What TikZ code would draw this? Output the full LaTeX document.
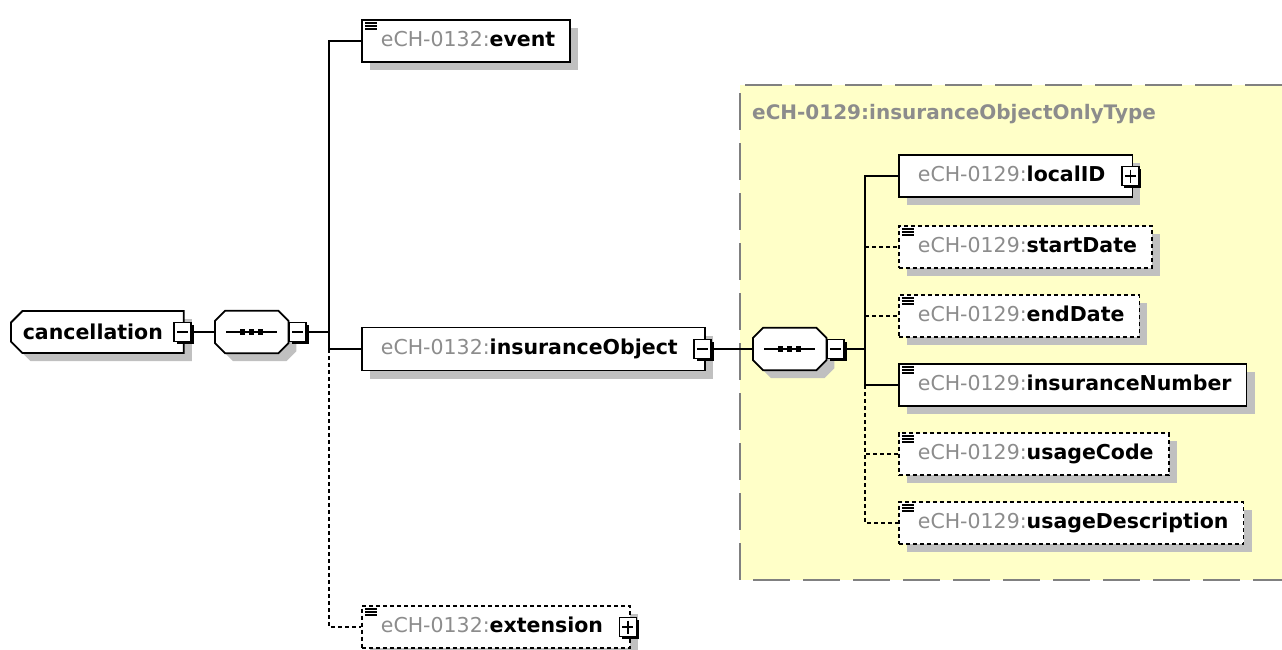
\documentclass[tikz,border=0pt]{standalone}
\usepackage{fontspec}
\setmainfont{DejaVu Sans}
\usetikzlibrary{shapes.misc,shadows,calc}

\definecolor{prefixgray}{HTML}{8C8C8C}
\definecolor{shadowgray}{HTML}{C0C0C0}
\definecolor{typeyellow}{HTML}{FFFFC8}
\definecolor{typeborder}{HTML}{808080}

% element label: gray prefix, bold local name
\newcommand{\elname}[3][15pt]{\hspace*{19pt}{\color{prefixgray}#2:}\textbf{#3}\hspace*{#1}}

% sequence compositor outline: octagon round a named node
\newcommand{\seqoutline}[1]{%
  \filldraw[fill=white, line width=1.8pt, boxshadow]
    ([xshift=10pt]#1.north west) -- ([xshift=-10pt]#1.north east) -- ([yshift=-10pt]#1.north east)
    -- ([yshift=10pt]#1.south east) -- ([xshift=-10pt]#1.south east) -- ([xshift=10pt]#1.south west)
    -- ([yshift=10pt]#1.south west) -- ([yshift=-10pt]#1.north west) -- cycle;
  \draw[line width=1.3pt] ([xshift=11pt]#1.west) -- ([xshift=-11pt]#1.east);
  \foreach \dx in {-9,0,9}
    \fill ([xshift=\dx pt]#1.center) +(-2.6,-2.6) rectangle +(2.6,2.6);}

\tikzset{
  boxshadow/.style={drop shadow={shadow xshift=8pt, shadow yshift=-8pt, fill=shadowgray, opacity=1}},
  elem/.style={rectangle, draw, fill=white, line width=1.8pt, anchor=west, minimum height=42pt,
    inner xsep=0pt, inner ysep=0pt, text height=15pt, text depth=4pt, boxshadow},
  optional/.style={dash pattern=on 4pt off 3pt},
  simple/.style={path picture={
    \foreach \dy in {3,6,9}
      \draw[solid, line width=1.3pt] ($(path picture bounding box.north west)+(3,\dy)$) -- +(12,0);}},
  togglebox/.style={rectangle, draw, solid, fill=white, line width=1.5pt, minimum width=17pt,
    minimum height=19pt, inner sep=0pt,
    drop shadow={shadow xshift=2.5pt, shadow yshift=-2.5pt, fill=black, opacity=1}},
  minusbox/.style={togglebox, path picture={
    \draw[line width=1.2pt] ($(path picture bounding box.west)+(3,0)$) -- ($(path picture bounding box.east)+(-3,0)$);}},
  plusbox/.style={togglebox, path picture={
    \draw[line width=1.2pt] ($(path picture bounding box.west)+(3,0)$) -- ($(path picture bounding box.east)+(-3,0)$);
    \draw[line width=1.2pt] ($(path picture bounding box.north)+(0,3)$) -- ($(path picture bounding box.south)+(0,-3)$);}},
  rootbox/.style={chamfered rectangle, chamfered rectangle corners={north west,south west},
    chamfered rectangle xsep=8pt, draw, fill=white, line width=1.8pt, anchor=west,
    minimum height=42pt, inner xsep=0pt, inner ysep=0pt, boxshadow},
  seqbox/.style={rectangle, anchor=west, minimum width=73pt, minimum height=42pt, inner sep=0pt},
  link/.style={line width=1.5pt},
}

\begin{document}
\begin{tikzpicture}[x=1pt, y=-1pt, font=\fontsize{20.5}{24}\selectfont]
\useasboundingbox (0,0) rectangle (1282,649);

% complex type frame
\fill[typeyellow] (740,85) rectangle (1282,580);
\draw[typeborder, line width=2pt, dash pattern=on 37pt off 13pt] (1282,85) -- (740,85) -- (740,580) -- (1282,580);
\node[anchor=west, inner sep=0pt, text=prefixgray, font=\fontsize{20}{24}\selectfont\bfseries] (typename) at (752,114) {eCH-0129:insuranceObjectOnlyType};

% root element and first sequence
\node[rootbox] (cancel) at (10,332) {\hspace*{4pt}\textbf{cancellation}\hspace*{13pt}};
\node[minusbox] (cancelm) at ([xshift=-2pt]cancel.east) {};
\node[seqbox] (seq1) at (215,332) {};
\seqoutline{seq1}
\node[minusbox, anchor=west] (seq1m) at (seq1.east) {};

% children of cancellation
\node[elem, simple] (event) at (361,41) {\elname{eCH-0132}{event}};
\node[elem, minimum height=43pt] (insobj) at (361,349) {\elname[27pt]{eCH-0132}{insuranceObject}};
\node[minusbox] (insobjm) at ([xshift=-3pt]insobj.east) {};
\node[elem, optional, simple] (ext) at (361,627) {\elname[27pt]{eCH-0132}{extension}};
\node[plusbox] (extp) at ([xshift=-3pt]ext.east) {};

% second sequence inside the type
\node[seqbox] (seq2) at (753,349) {};
\seqoutline{seq2}
\node[minusbox, anchor=west] (seq2m) at (seq2.east) {};

% children of insuranceObject
\node[elem] (localid) at (898,176) {\elname[27pt]{eCH-0129}{localID}};
\node[plusbox] (localidp) at ([xshift=-3pt]localid.east) {};
\node[elem, simple] (insnum) at (898,385) {\elname{eCH-0129}{insuranceNumber}};
\foreach \nm/\y in {startDate/247, endDate/316, usageCode/454, usageDescription/523} {
  \node[elem, optional, simple] (\nm) at (898,\y) {\elname{eCH-0129}{\nm}};
}

% connectors
\coordinate (T1) at (329,332);
\coordinate (T2) at (865,349);
\draw[link] (cancelm.east) -- (seq1.west);
\draw[link] (seq1m.east) -- (T1);
\draw[link] (T1) |- (event.west);
\draw[link] (T1) |- (insobj.west);
\draw[link, optional] (insobj.west -| T1) |- (ext.west);
\draw[link] (insobjm.east) -- (seq2.west);
\draw[link] (seq2m.east) -- (T2);
\draw[link] (T2) |- (localid.west);
\draw[link] (T2) |- (insnum.west);
\draw[link, optional] (startDate.west -| T2) -- (startDate.west);
\draw[link, optional] (endDate.west -| T2) -- (endDate.west);
\draw[link, optional] (insnum.west -| T2) |- (usageCode.west);
\draw[link, optional] (insnum.west -| T2) |- (usageDescription.west);

\end{tikzpicture}
\end{document}
